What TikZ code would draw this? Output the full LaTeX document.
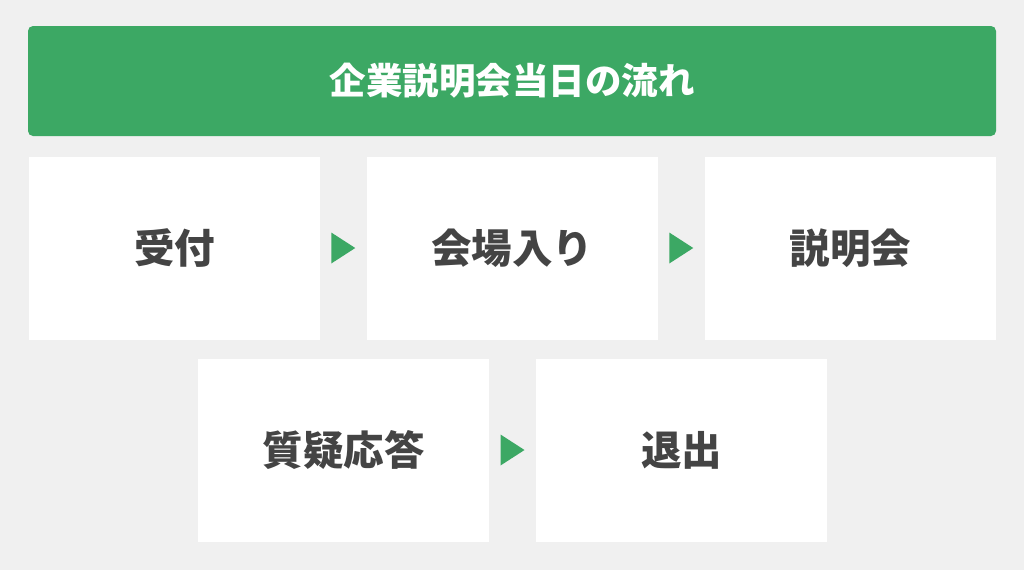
\documentclass[tikz,border=0pt]{standalone}
\usepackage{fontspec}
\newfontfamily\cjk{Noto Sans CJK JP}
\usetikzlibrary{calc}
\definecolor{bg}{HTML}{F0F0F0}
\definecolor{hdr}{HTML}{3CA864}
\definecolor{txt}{HTML}{444444}
\tikzset{
  stepbox/.style={fill=white, draw=none, minimum width=291pt, minimum height=183pt, inner sep=0pt,
    text=txt, font=\cjk\bfseries\fontsize{40.5}{48}\selectfont},
  header/.style={fill=hdr, draw=none, rounded corners=5pt, minimum width=968pt, minimum height=110pt,
    inner sep=0pt, text=white, font=\cjk\bfseries\fontsize{36.5}{42}\selectfont},
  flowtri/.style={fill=hdr, draw=none}
}
\newcommand{\flowarrow}[2]{%
  \path let \p1=($(#1.east)!0.5!(#2.west)$) in
    [flowtri] (\x1-12pt,\y1+15.5pt) -- (\x1+12pt,\y1) -- (\x1-12pt,\y1-15.5pt) -- cycle;}
\begin{document}
\begin{tikzpicture}[x=1pt,y=-1pt]
\useasboundingbox (0,0) rectangle (1024,570);
\fill[bg] (0,0) rectangle (1024,570);
\node[header] (title) at (512,81) {企業説明会当日の流れ};
\node[stepbox] (s1) at (174.5,248) {受付};
\node[stepbox] (s2) at (512,248) {会場入り};
\node[stepbox] (s3) at (850.5,248) {説明会};
\node[stepbox] (s4) at (343.5,450) {質疑応答};
\node[stepbox] (s5) at (681.5,450) {退出};
\flowarrow{s1}{s2}
\flowarrow{s2}{s3}
\flowarrow{s4}{s5}
\end{tikzpicture}
\end{document}
